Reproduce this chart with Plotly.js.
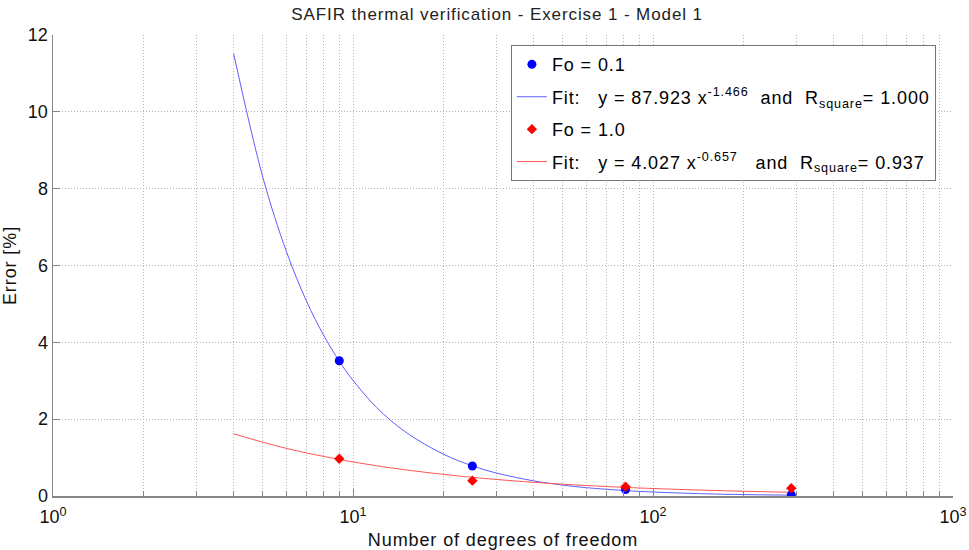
<!DOCTYPE html>
<html>
<head>
<meta charset="utf-8">
<script src="https://cdn.plot.ly/plotly-3.0.1.min.js"></script>
<style>
html,body{margin:0;padding:0;background:#fff;}
#chart{width:969px;height:550px;}
svg text.gtitle, svg text.xtitle, svg text.ytitle, svg text.legendtext {letter-spacing:0.9px;}
</style>
</head>
<body>
<div id="chart"></div>
<script>
// Measured points
const dof = [9, 25, 81, 289];
const errFo01 = [3.52, 0.78, 0.17, 0.03];
const errFo10 = [0.97, 0.40, 0.24, 0.20];

// Fit curves
const fitX = [4, 5, 6, 7, 8, 9, 10, 12, 15, 20, 25, 30, 40, 50, 60, 81, 100, 150, 200, 289];
const fitFo01 = [11.52, 8.31, 6.36, 5.07, 4.17, 3.51, 3.01, 2.30, 1.66, 1.09, 0.785, 0.60, 0.394, 0.284, 0.217, 0.140, 0.103, 0.057, 0.037, 0.022];
const fitFo10 = [1.62, 1.40, 1.24, 1.12, 1.03, 0.951, 0.887, 0.787, 0.680, 0.563, 0.486, 0.431, 0.357, 0.308, 0.273, 0.224, 0.195, 0.150, 0.124, 0.097];

const legendNames = [
  'Fo = 0.1',
  'Fit:   y = 87.923 x<sup>-1.466</sup>  and  R<sub>square</sub>= 1.000',
  'Fo = 1.0',
  'Fit:   y = 4.027 x<sup>-0.657</sup>   and  R<sub>square</sub>= 0.937'
];

const xTickVals = [1, 10, 100, 1000];
const xTickText = ['10<sup>0</sup>', '10<sup>1</sup>', '10<sup>2</sup>', '10<sup>3</sup>'];
const yTickVals = [0, 2, 4, 6, 8, 10, 12];

const blueLine = 'rgb(95,95,255)';
const redLine = 'rgb(255,85,85)';

const traces = [
  {x: dof, y: errFo01, type: 'scatter', mode: 'markers', name: legendNames[0], legendgroup: 'a', legendrank: 1,
   marker: {color: '#0000ff', symbol: 'circle', size: 9}},
  {x: fitX, y: fitFo01, type: 'scatter', mode: 'lines', name: legendNames[1], legendgroup: 'b', legendrank: 2,
   line: {color: blueLine, width: 1, shape: 'spline'}},
  {x: dof, y: errFo10, type: 'scatter', mode: 'markers', name: legendNames[2], legendgroup: 'c', legendrank: 3,
   marker: {color: '#ff0000', symbol: 'diamond', size: 8}},
  {x: fitX, y: fitFo10, type: 'scatter', mode: 'lines', name: legendNames[3], legendgroup: 'd', legendrank: 4,
   line: {color: redLine, width: 1, shape: 'spline'}}
];
// draw lines beneath the markers
const ordered = [traces[1], traces[3], traces[0], traces[2]];

const gridC = '#b4b4b4';
const axisC = '#858585';
const layout = {
  width: 969, height: 550,
  margin: {l: 53, r: 16, t: 35, b: 54},
  paper_bgcolor: '#fff', plot_bgcolor: '#fff',
  font: {family: 'Liberation Sans, Arial, sans-serif', color: '#000', size: 17},
  title: {text: 'SAFIR thermal verification - Exercise 1 - Model 1', x: 0.513, xanchor: 'center', y: 0.975, yanchor: 'middle', font: {size: 17, color: '#222'}},
  xaxis: {
    type: 'log', range: [0, 3], tickvals: xTickVals, ticktext: xTickText,
    showline: true, linecolor: axisC, linewidth: 1.5, ticks: 'inside', ticklen: 7, tickcolor: axisC,
    ticklabelstandoff: 4,
    showgrid: true, gridcolor: gridC, griddash: '1px,2px', gridwidth: 1,
    minor: {showgrid: true, gridcolor: gridC, griddash: '1px,2px', ticks: 'inside', ticklen: 5, tickcolor: axisC, dtick: 'D1'},
    zeroline: false, tickfont: {size: 18, color: '#111'},
    title: {text: 'Number of degrees of freedom', font: {size: 18, color: '#111'}, standoff: 8}
  },
  yaxis: {
    range: [0, 12], tickvals: yTickVals,
    showline: true, linecolor: axisC, linewidth: 1.5, ticks: 'inside', ticklen: 7, tickcolor: axisC,
    showgrid: true, gridcolor: gridC, griddash: '1px,2px', gridwidth: 1, zeroline: false,
    tickfont: {size: 18, color: '#111'},
    title: {text: 'Error [%]', font: {size: 18, color: '#111'}, standoff: 12}
  },
  showlegend: true,
  legend: {
    x: 0.981, xanchor: 'right', y: 0.978, yanchor: 'top',
    bgcolor: '#fff', bordercolor: '#777', borderwidth: 1,
    font: {size: 18, color: '#000'}, traceorder: 'grouped', tracegroupgap: 6, itemwidth: 30
  }
};

Plotly.newPlot('chart', ordered, layout, {displayModeBar: false, staticPlot: true});
</script>
</body>
</html>
